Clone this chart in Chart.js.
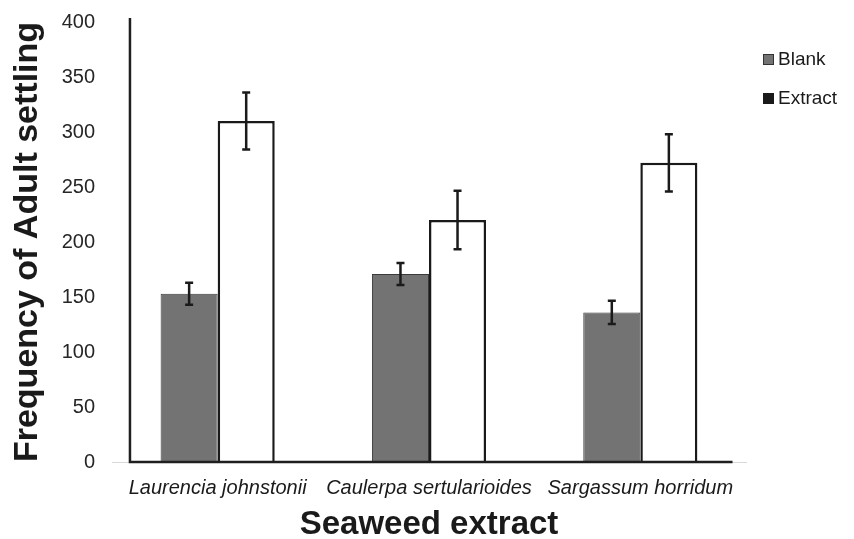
<!DOCTYPE html>
<html>
<head>
<meta charset="utf-8">
<script src="https://cdn.jsdelivr.net/npm/chart.js@4/dist/chart.umd.min.js"></script>
<style>
html,body{margin:0;padding:0;background:#fff;}
#wrap{width:854px;height:539px;position:relative;}
</style>
</head>
<body>
<div id="wrap"><canvas id="c" width="854" height="539"></canvas></div>
<script>
const categories = ['Laurencia johnstonii', 'Caulerpa sertularioides', 'Sargassum horridum'];
const seriesNames = ['Blank', 'Extract'];
const blankValues = [153, 171, 136];
const extractValues = [310, 220, 272];
const blankErrors = [10, 10, 10.5];
const extractErrors = [26, 26.5, 26];
const yTicks = [0, 50, 100, 150, 200, 250, 300, 350, 400];

const FONT = "'Liberation Sans', Arial, sans-serif";
const errorsByDataset = [blankErrors, extractErrors];

const errorBarPlugin = {
  id: 'errorBars',
  afterDatasetsDraw(chart) {
    const ctx = chart.ctx;
    const y = chart.scales.y;
    ctx.save();
    ctx.strokeStyle = '#1a1a1a';
    ctx.lineWidth = 2.5;
    chart.data.datasets.forEach((ds, di) => {
      const meta = chart.getDatasetMeta(di);
      meta.data.forEach((bar, i) => {
        const v = ds.data[i], e = errorsByDataset[di][i];
        const x = bar.x;
        const yt = y.getPixelForValue(v + e), yb = y.getPixelForValue(v - e);
        ctx.beginPath();
        ctx.moveTo(x, yt); ctx.lineTo(x, yb);
        ctx.moveTo(x - 4, yt); ctx.lineTo(x + 4, yt);
        ctx.moveTo(x - 4, yb); ctx.lineTo(x + 4, yb);
        ctx.stroke();
      });
    });
    ctx.restore();
  }
};

const axisLinesPlugin = {
  id: 'axisLines',
  afterDatasetsDraw(chart) {
    const ctx = chart.ctx;
    const x = chart.scales.x, y = chart.scales.y;
    const inset = (x.right - x.left) / categories.length * 0.085;
    const x0 = x.left + inset, x1 = x.right - inset * 0.75;
    const y0 = y.getPixelForValue(0);
    const yTop = y.getPixelForValue(yTicks[yTicks.length - 1]) - 4;
    ctx.save();
    ctx.strokeStyle = '#1f1f1f';
    ctx.lineWidth = 2.5;
    ctx.beginPath();
    ctx.moveTo(x0, yTop); ctx.lineTo(x0, y0);
    ctx.lineTo(x1, y0);
    ctx.stroke();
    ctx.restore();
  }
};

const legendPlugin = {
  id: 'customLegend',
  afterDraw(chart) {
    const ctx = chart.ctx;
    const a = chart.chartArea;
    const sx = a.right + 17;
    const items = [
      {label: seriesNames[0], fill: '#737373', stroke: '#333'},
      {label: seriesNames[1], fill: '#1a1a1a', stroke: '#1a1a1a'}
    ];
    ctx.save();
    ctx.font = '19px ' + FONT;
    ctx.textBaseline = 'middle';
    items.forEach((it, i) => {
      const cy = a.top + 38 + i * 39;
      ctx.fillStyle = it.fill;
      ctx.fillRect(sx, cy - 6, 11, 11);
      ctx.strokeStyle = it.stroke;
      ctx.lineWidth = 1;
      ctx.strokeRect(sx + 0.5, cy - 5.5, 10, 10);
      ctx.fillStyle = '#1a1a1a';
      ctx.fillText(it.label, sx + 15, cy);
    });
    ctx.restore();
  }
};

new Chart(document.getElementById('c'), {
  type: 'bar',
  data: {
    labels: categories,
    datasets: [
      {label: seriesNames[0], data: blankValues, backgroundColor: '#737373', borderColor: '#3a3a3a', borderWidth: 1},
      {label: seriesNames[1], data: extractValues, backgroundColor: '#ffffff', borderColor: '#1a1a1a', borderWidth: 2.5}
    ]
  },
  options: {
    responsive: false,
    animation: false,
    devicePixelRatio: 1,
    layout: {padding: {top: 22, right: 108, left: 0, bottom: 0}},
    datasets: {bar: {barPercentage: 1, categoryPercentage: 0.54}},
    plugins: {legend: {display: false}, tooltip: {enabled: false}},
    scales: {
      x: {
        grid: {display: false, drawTicks: false},
        border: {display: true, color: '#d9d9d9', width: 1},
        ticks: {font: {family: FONT, size: 20, style: 'italic'}, color: '#1a1a1a', padding: 14, maxRotation: 0, autoSkip: false},
        title: {display: true, text: 'Seaweed extract', font: {family: FONT, size: 33, weight: 'bold', lineHeight: 1}, color: '#1a1a1a', padding: {top: 0, bottom: -2}},
        afterFit(s) { s.height = 77; s.paddingLeft = 0; s.paddingRight = 0; }
      },
      y: {
        min: 0, max: 400,
        afterBuildTicks(s) { s.ticks = yTicks.map(v => ({value: v})); },
        grid: {display: false, drawTicks: false},
        border: {display: false},
        ticks: {font: {family: FONT, size: 20}, color: '#262626', padding: 17},
        title: {display: true, text: 'Frequency of Adult settling', font: {family: FONT, size: 34, weight: 'bold', lineHeight: 1}, color: '#1a1a1a', padding: {top: 11, bottom: 0}},
        afterFit(s) { s.width = 112; s.paddingTop = 0; s.paddingBottom = 0; }
      }
    }
  },
  plugins: [errorBarPlugin, axisLinesPlugin, legendPlugin]
});
</script>
</body>
</html>
